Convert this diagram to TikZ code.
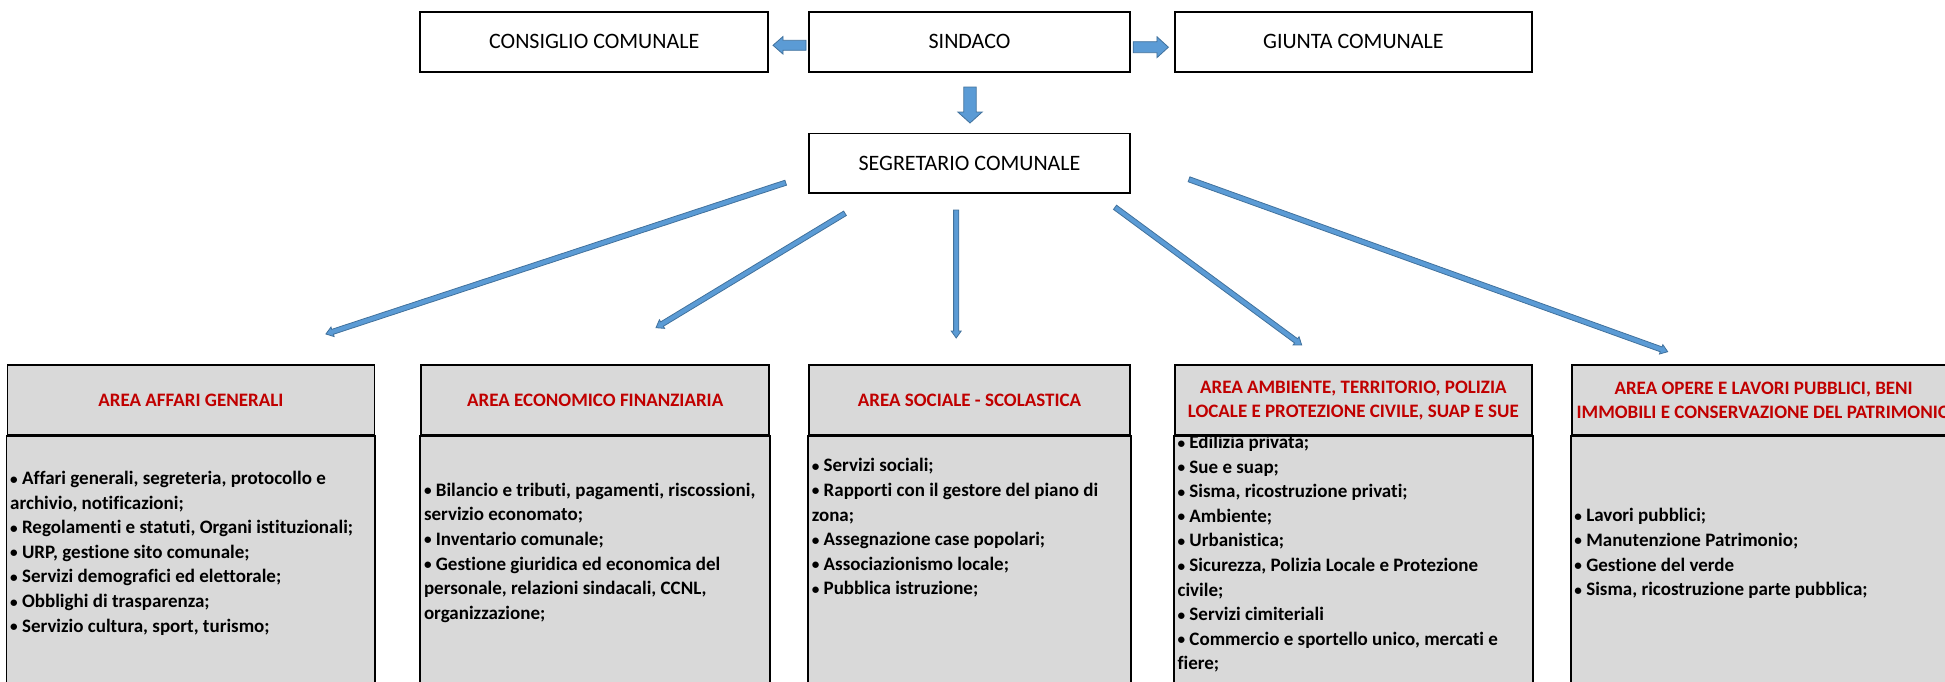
\documentclass[tikz,border=0pt]{standalone}
\usepackage{fontspec}
\setmainfont{Carlito}[Ligatures=NoCommon]
\usetikzlibrary{positioning, calc}
\definecolor{rossoarea}{HTML}{C00000}
\definecolor{grigioarea}{HTML}{D9D9D9}
\definecolor{bluefreccia}{HTML}{5B9BD5}
\definecolor{bordofreccia}{HTML}{41719C}
\tikzset{casella/.style={draw, line width=1.8pt, fill=white, minimum height=60pt, inner sep=0pt, font=\fontsize{22}{26}\selectfont}}
\tikzset{intestazione/.style={draw, line width=1.8pt, fill=grigioarea, minimum height=70pt, inner sep=0pt, align=center, text=rossoarea, font=\bfseries\fontsize{19}{24}\selectfont}}
\tikzset{corpo/.style={draw, line width=1.8pt, fill=grigioarea}}
\tikzset{voci/.style={anchor=north west, inner sep=0pt, align=left, font=\bfseries\fontsize{19}{24.6}\selectfont}}
\tikzset{freccia/.style={fill=bluefreccia, draw=bordofreccia, line width=0.8pt, line join=miter}}
\newcommand{\pallino}{\raisebox{0.5pt}{\scalebox{0.8}{•}}}
% freccia piena: da, a, mezzo fusto, mezza punta, lunghezza punta
\newcommand{\freccia}[5]{%
  \coordinate (bam) at ($(#2)!#5!(#1)$);
  \filldraw[freccia] ($(#1)!#3!90:(#2)$) -- ($(bam)!#3!90:(#2)$) -- ($(bam)!#4!90:(#2)$) -- (#2)
    -- ($(bam)!#4!-90:(#2)$) -- ($(bam)!#3!-90:(#2)$) -- ($(#1)!#3!-90:(#2)$) -- cycle;}

\begin{document}
\begin{tikzpicture}[x=1pt, y=1pt]
    \useasboundingbox (0,0) rectangle (1945,-681);

    \node[casella, minimum width=321pt] (sind) at (969.5,-41.7) {SINDACO};
    \node[casella, minimum width=348pt, left=39pt of sind] (cons) {CONSIGLIO COMUNALE};
    \node[casella, minimum width=357pt, right=43pt of sind] (giunta) {GIUNTA COMUNALE};
    \node[casella, minimum width=321pt, minimum height=59.3pt, below=60pt of sind] (segr) {SEGRETARIO COMUNALE};

    % aree
    \node[intestazione, minimum width=321pt, below=170.5pt of segr] (sociale) {AREA SOCIALE - SCOLASTICA};
    \node[intestazione, minimum width=348pt, left=38pt of sociale] (economico) {AREA ECONOMICO FINANZIARIA};
    \node[intestazione, minimum width=367pt, left=45pt of economico] (affari) {AREA AFFARI GENERALI};
    \node[intestazione, minimum width=357pt, right=43pt of sociale] (ambiente) {AREA AMBIENTE, TERRITORIO, POLIZIA\\LOCALE E PROTEZIONE CIVILE, SUAP E SUE};
    \node[intestazione, minimum width=384pt, right=38pt of ambiente] (opere) {AREA OPERE E LAVORI PUBBLICI, BENI\\IMMOBILI E CONSERVAZIONE DEL PATRIMONIO};

    \foreach \a in {affari, economico, sociale, ambiente, opere}
        \draw[corpo] (\a.south west) rectangle ($(\a.south east)+(0,-320)$);

    \node[voci] (vaffari) at ($(affari.south west)+(3.5,-35)$) {%
        \pallino{} Affari generali, segreteria, protocollo e\\archivio, notificazioni;\\
        \pallino{} Regolamenti e statuti, Organi istituzionali;\\\pallino{} URP, gestione sito comunale;\\
        \pallino{} Servizi demografici ed elettorale;\\\pallino{} Obblighi di trasparenza;\\
        \pallino{} Servizio cultura, sport, turismo;};
    \node[voci] (veconomico) at ($(economico.south west)+(3.5,-46.7)$) {%
        \pallino{} Bilancio e tributi, pagamenti, riscossioni,\\servizio economato;\\
        \pallino{} Inventario comunale;\\\pallino{} Gestione giuridica ed economica del\\
        personale, relazioni sindacali, CCNL,\\organizzazione;};
    \node[voci] (vsociale) at ($(sociale.south west)+(3.5,-22.3)$) {%
        \pallino{} Servizi sociali;\\\pallino{} Rapporti con il gestore del piano di\\zona;\\
        \pallino{} Assegnazione case popolari;\\\pallino{} Associazionismo locale;\\\pallino{} Pubblica istruzione;};
    \node[voci] (vambiente) at ($(ambiente.south west)+(3.5,1)$) {%
        \pallino{} Edilizia privata;\\\pallino{} Sue e suap;\\\pallino{} Sisma, ricostruzione privati;\\
        \pallino{} Ambiente;\\\pallino{} Urbanistica;\\\pallino{} Sicurezza, Polizia Locale e Protezione\\civile;\\
        \pallino{} Servizi cimiteriali\\\pallino{} Commercio e sportello unico, mercati e\\fiere;};
    \node[voci] (vopere) at ($(opere.south west)+(3.5,-72.3)$) {%
        \pallino{} Lavori pubblici;\\\pallino{} Manutenzione Patrimonio;\\\pallino{} Gestione del verde\\
        \pallino{} Sisma, ricostruzione parte pubblica;};

    % ridisegno le intestazioni sopra il testo
    \foreach \a in {affari, economico, sociale, ambiente, opere}
        \draw[line width=1.8pt] (\a.south west) -- (\a.south east);

    % frecce
    \coordinate (p0) at (806,-45.3);   \coordinate (q0) at (773,-45.3);
    \coordinate (p1) at (1133.2,-47.2); \coordinate (q1) at (1168.4,-47.2);
    \coordinate (p2) at (970,-87);     \coordinate (q2) at (970,-123);
    \freccia{p0}{q0}{5pt}{8.8pt}{10pt}
    \freccia{p1}{q1}{5.5pt}{10.5pt}{11.5pt}
    \freccia{p2}{q2}{6.2pt}{12.2pt}{11pt}

    \coordinate (s1) at (785.7,-182.7);  \coordinate (t1) at (325.9,-334);
    \coordinate (s2) at (845,-213.3);    \coordinate (t2) at (656,-327.7);
    \coordinate (s3) at (956.2,-210);    \coordinate (t3) at (956.2,-338);
    \coordinate (s4) at (1115,-207.3);   \coordinate (t4) at (1301.7,-345);
    \coordinate (s5) at (1189,-179.3);   \coordinate (t5) at (1667.7,-351.7);
    \foreach \i in {1,...,5}
        {\freccia{s\i}{t\i}{2.6pt}{5pt}{7pt}}
\end{tikzpicture}
\end{document}
